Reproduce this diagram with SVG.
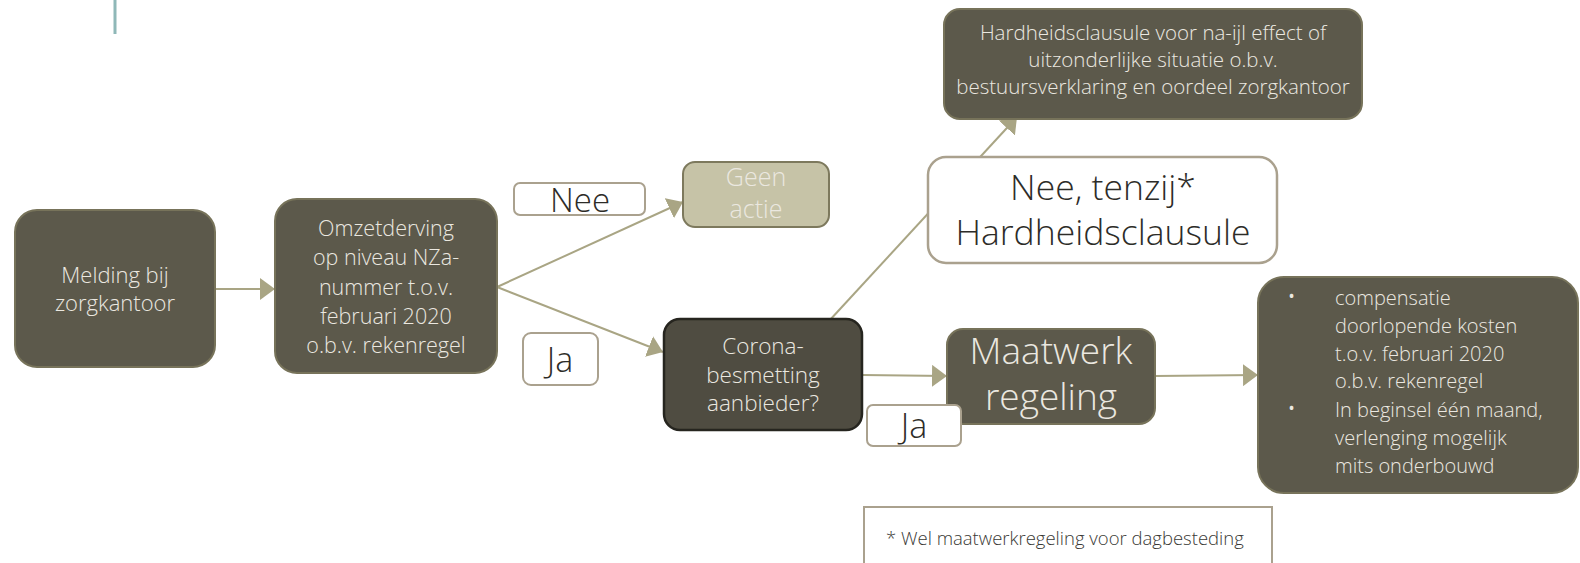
<svg xmlns="http://www.w3.org/2000/svg" width="1580" height="563" viewBox="0 0 1580 563">
<style>
text{font-family:"Open Sans","Noto Sans","Liberation Sans",sans-serif;font-weight:300}
.dark{fill:#5c594b;stroke:#77735a;stroke-width:2}
.lt{fill:#ebe8e0;text-anchor:middle}
.lbl{fill:#ffffff;stroke:#aaa18e;stroke-width:2}
.lbltxt{fill:#2d2c28;text-anchor:middle}
.conn{stroke:#a9a584;stroke-width:2;fill:none;marker-end:url(#ah)}
</style>
<defs>
<marker id="ah" viewBox="0 0 15 22" refX="15" refY="11" markerWidth="15" markerHeight="22" markerUnits="userSpaceOnUse" orient="auto">
<path d="M0,0 L15,11 L0,22 Z" fill="#a9a584"/>
</marker>
</defs>
<rect x="113.5" y="0" width="3" height="34" fill="#8fb8b8"/>
<g id="connectors">
<line class="conn" x1="215" y1="289" x2="275" y2="289"/>
<line class="conn" x1="497" y1="287" x2="683" y2="202"/>
<line class="conn" x1="497" y1="287" x2="663" y2="352"/>
<line class="conn" x1="829" y1="321" x2="1017" y2="117"/>
<line class="conn" x1="862" y1="375" x2="947" y2="376"/>
<line class="conn" x1="1155" y1="376" x2="1258" y2="375"/>
</g>
<g id="melding">
<rect class="dark" x="15" y="210" width="200" height="157" rx="22"/>
<text class="lt" font-size="22" x="115" y="283">Melding bij</text>
<text class="lt" font-size="22" x="115" y="311">zorgkantoor</text>
</g>
<g id="omzetderving">
<rect class="dark" x="275" y="199" width="222" height="174" rx="22"/>
<text class="lt" font-size="21.5" x="386" y="236">Omzetderving</text>
<text class="lt" font-size="21.5" x="386" y="265">op niveau NZa-</text>
<text class="lt" font-size="21.5" x="386" y="295">nummer t.o.v.</text>
<text class="lt" font-size="21.5" x="386" y="324">februari 2020</text>
<text class="lt" font-size="21.5" x="386" y="353">o.b.v. rekenregel</text>
</g>
<g id="label-nee">
<rect class="lbl" x="514" y="183" width="131" height="32" rx="6"/>
<text class="lbltxt" font-size="33" x="580" y="212">Nee</text>
</g>
<g id="geen-actie">
<rect x="683" y="162" width="146" height="65" rx="12" fill="#c6c3a7" stroke="#7d795d" stroke-width="2"/>
<text class="lt" font-size="25" x="756" y="186" fill="#eeece2">Geen</text>
<text class="lt" font-size="25" x="756" y="218" fill="#eeece2">actie</text>
</g>
<g id="label-ja1">
<rect class="lbl" x="523" y="333" width="75" height="52" rx="8"/>
<text class="lbltxt" font-size="34" x="560" y="372">Ja</text>
</g>
<g id="corona">
<rect x="664" y="319" width="198" height="111" rx="16" fill="#4f4c41" stroke="#26251f" stroke-width="2.5"/>
<text class="lt" font-size="22.5" x="763" y="354">Corona-</text>
<text class="lt" font-size="22.5" x="763" y="383">besmetting</text>
<text class="lt" font-size="22.5" x="763" y="411">aanbieder?</text>
</g>
<g id="hardheid">
<rect class="dark" x="944" y="9" width="418" height="110" rx="16"/>
<text class="lt" font-size="20.5" x="1153" y="40">Hardheidsclausule voor na-ijl effect of</text>
<text class="lt" font-size="20.5" x="1153" y="67">uitzonderlijke situatie o.b.v.</text>
<text class="lt" font-size="20.5" x="1153" y="94">bestuursverklaring en oordeel zorgkantoor</text>
</g>
<g id="nee-tenzij">
<rect x="928" y="157" width="349" height="106" rx="18" fill="#ffffff" stroke="#aaa18e" stroke-width="2.5"/>
<text class="lbltxt" font-size="35.5" x="1103" y="200">Nee, tenzij*</text>
<text class="lbltxt" font-size="35.5" x="1103" y="245">Hardheidsclausule</text>
</g>
<g id="maatwerk">
<rect class="dark" x="947" y="329" width="208" height="95" rx="16"/>
<text class="lt" font-size="37" x="1051" y="364">Maatwerk</text>
<text class="lt" font-size="37" x="1051" y="410">regeling</text>
</g>
<g id="label-ja2">
<rect class="lbl" x="867" y="405" width="94" height="41" rx="6"/>
<text class="lbltxt" font-size="34" x="914" y="438">Ja</text>
</g>
<g id="compensatie">
<rect class="dark" x="1258" y="277" width="320" height="216" rx="26"/>
<g fill="#ebe8e0" font-size="20">
<text x="1287" y="305" font-size="24">•</text>
<text x="1335" y="305">compensatie</text>
<text x="1335" y="333">doorlopende kosten</text>
<text x="1335" y="361">t.o.v. februari 2020</text>
<text x="1335" y="388">o.b.v. rekenregel</text>
<text x="1287" y="417" font-size="24">•</text>
<text x="1335" y="417">In beginsel één maand,</text>
<text x="1335" y="445">verlenging mogelijk</text>
<text x="1335" y="473">mits onderbouwd</text>
</g>
</g>
<g id="footnote">
<rect x="864" y="507" width="408" height="80" fill="#ffffff" stroke="#aaa18e" stroke-width="2"/>
<text x="886" y="545" font-size="18.5" fill="#3a3935">* Wel maatwerkregeling voor dagbesteding</text>
</g>
</svg>
